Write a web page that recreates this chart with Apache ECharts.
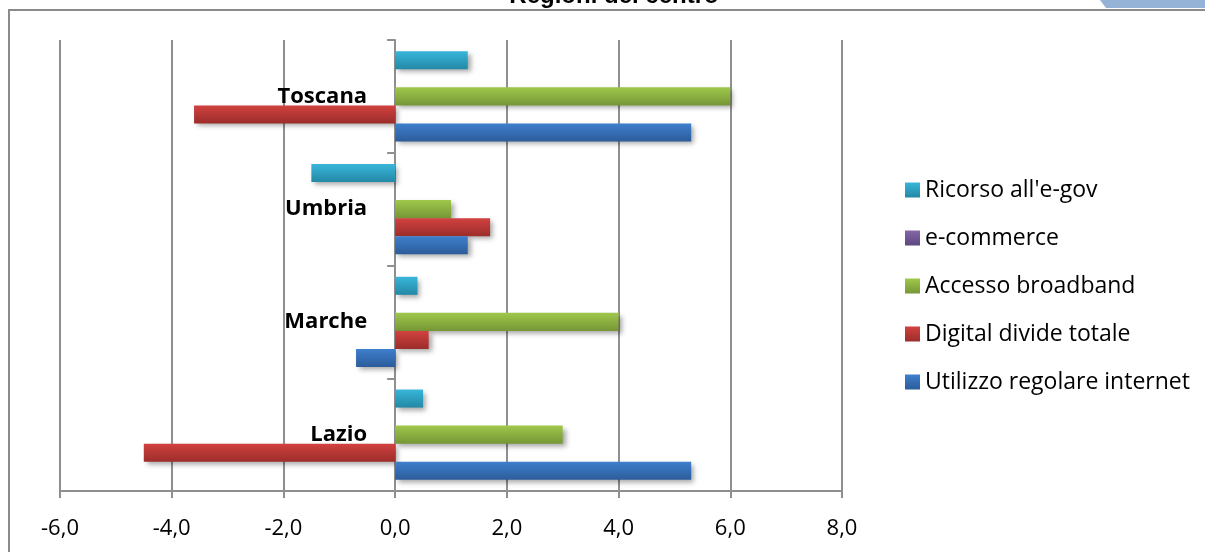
<!DOCTYPE html>
<html>
<head>
<meta charset="utf-8">
<script src="https://cdn.jsdelivr.net/npm/echarts@6/dist/echarts.min.js"></script>
<style>
  html, body { margin: 0; padding: 0; background: #fff; }
  #chart { width: 1205px; height: 552px; }
</style>
</head>
<body>
<div id="chart"></div>
<script>
// Regions, listed bottom to top on the category axis
const regions = ['Lazio', 'Marche', 'Umbria', 'Toscana'];

// Indicator values per region (same order as regions)
const ricorsoEgov = [0.5, 0.4, -1.5, 1.3];
const eCommerce = [0, 0, 0, 0];
const accessoBroadband = [3.0, 4.0, 1.0, 6.0];
const digitalDivide = [-4.5, 0.6, 1.7, -3.6];
const utilizzoInternet = [5.3, -0.7, 1.3, 5.3];

const seriesNames = ["Ricorso all'e-gov", 'e-commerce', 'Accesso broadband', 'Digital divide totale', 'Utilizzo regolare internet'];
const seriesValues = [ricorsoEgov, eCommerce, accessoBroadband, digitalDivide, utilizzoInternet];

const xTicks = { min: -6, max: 8, step: 2 };

// Top/bottom shades for each bar colour
const shades = [
  ['#38b6da', '#2388a5'],
  ['#8466a8', '#5d4880'],
  ['#9fc84b', '#769636'],
  ['#d1423f', '#9c2d2b'],
  ['#3e7fcd', '#2c5c9a']
];

const plot = { left: 60, right: 363, top: 40, bottom: 61, width: 1205 };

const chart = echarts.init(document.getElementById('chart'), null, { renderer: 'canvas' });

// The category axis sits on the zero line of the value axis
const plotWidth = plot.width - plot.left - plot.right;
const zeroShift = (0 - xTicks.min) / (xTicks.max - xTicks.min) * plotWidth;

const gridColor = '#8f8f8f';

const series = seriesNames.map((name, i) => ({
  name,
  type: 'bar',
  data: seriesValues[i],
  barGap: '0%',
  barCategoryGap: '20%',
  itemStyle: {
    color: new echarts.graphic.LinearGradient(0, 0, 0, 1, [
      { offset: 0, color: shades[i][0] },
      { offset: 1, color: shades[i][1] }
    ]),
    shadowColor: 'rgba(0,0,0,0.35)',
    shadowBlur: 5,
    shadowOffsetX: 3,
    shadowOffsetY: 3
  },
  emphasis: { disabled: true }
}));

chart.setOption({
  animation: false,
  title: {
    text: 'Regioni del centro',
    left: 614,
    textAlign: 'center',
    top: -16,
    padding: 0,
    textStyle: { fontFamily: 'Liberation Sans', fontWeight: 'bold', fontSize: 24, color: '#000' }
  },
  graphic: [
    {
      type: 'rect',
      shape: { x: 9, y: 10, width: 1400, height: 800 },
      style: { fill: 'none', stroke: '#8a8a8a', lineWidth: 2 },
      silent: true
    },
    {
      type: 'polygon',
      shape: { points: [[1100, 0], [1205, 0], [1205, 8], [1106, 8]] },
      style: { fill: '#95b3d7' },
      silent: true
    }
  ],
  legend: {
    orient: 'vertical',
    left: 900,
    top: 173,
    itemWidth: 15,
    itemHeight: 15,
    itemGap: 24,
    icon: 'rect',
    data: seriesNames,
    textStyle: { fontFamily: 'Open Sans', fontSize: 23, color: '#000', lineHeight: 24 }
  },
  grid: {
    left: plot.left, right: plot.right, top: plot.top, bottom: plot.bottom,
    containLabel: false,
    outerBoundsMode: 'none'
  },
  xAxis: {
    type: 'value',
    min: xTicks.min,
    max: xTicks.max,
    interval: xTicks.step,
    axisLine: { show: true, lineStyle: { color: gridColor, width: 2 } },
    axisTick: { show: true, length: 7, lineStyle: { color: gridColor, width: 2 } },
    splitLine: { show: true, lineStyle: { color: gridColor, width: 2 } },
    axisLabel: {
      margin: 27,
      fontFamily: 'Open Sans',
      fontSize: 22,
      color: '#000',
      formatter: v => v.toFixed(1).replace('.', ',')
    }
  },
  yAxis: {
    type: 'category',
    data: regions,
    position: 'left',
    offset: -zeroShift,
    axisLine: { show: true, onZero: false, lineStyle: { color: gridColor, width: 2 } },
    axisTick: { show: true, length: 8, lineStyle: { color: gridColor, width: 2 } },
    axisLabel: {
      margin: 28,
      fontFamily: 'Open Sans',
      fontWeight: 'bold',
      fontSize: 22,
      color: '#000'
    }
  },
  series
});
</script>
</body>
</html>
